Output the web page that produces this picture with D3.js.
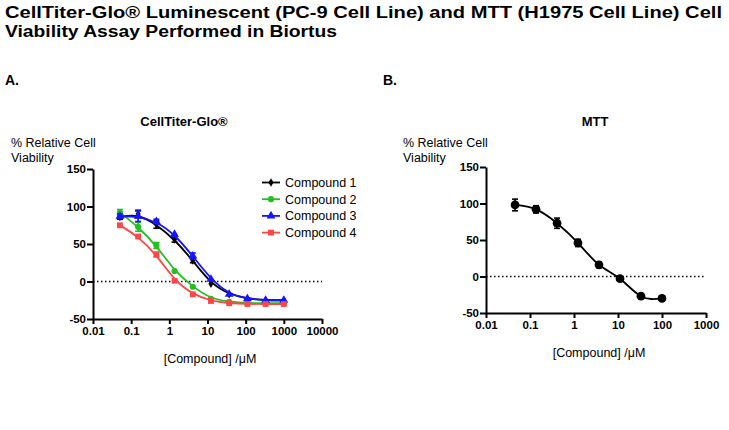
<!DOCTYPE html>
<html><head><meta charset="utf-8">
<script src="https://cdn.jsdelivr.net/npm/d3@7"></script>
<style>body{margin:0;background:#fff}svg{display:block;font-family:"Liberation Sans",Arial,sans-serif}</style>
</head><body>
<svg id="c" width="729" height="430"></svg>
<script>
// ---- data ----
const concA = [0.0508, 0.152, 0.457, 1.37, 4.12, 12.3, 37.0, 111, 333, 1000];
const comp1 = [86, 90, 76, 56, 28, -3, -17, -23, -25, -25];
const comp1Err = [3, 5, 5, 3.5, 3, 2, 2, 1, 1, 1];
const comp2 = [92, 73, 48, 14, -7, -23, -27, -29, -29, -29];
const comp2Err = [4, 6, 4, 2, 1.5, 1, 1, 1, 1, 1];
const comp3 = [87, 87, 80, 63, 34, 3, -17, -23, -25, -25];
const comp3Err = [3, 7, 3, 2, 4, 2, 1.5, 1, 1, 1];
const comp4 = [75, 60, 36, 1, -17, -26, -29, -30, -30, -30];
const comp4Err = [1.5, 2, 3, 1.5, 1, 1, 1, 1, 1, 1];
const seriesNames = ["Compound 1", "Compound 2", "Compound 3", "Compound 4"];

const concB = [0.0457, 0.137, 0.412, 1.23, 3.70, 11.1, 33.3, 100];
const mtt = [98, 92, 73, 46, 16, -3, -27, -30];
const mttErr = [8, 5, 7, 5, 4, 1, 1, 1];

const yTicks = [-50, 0, 50, 100, 150];
const yLabels = ["-50", "0", "50", "100", "150"];
const xTicksA = [0.01, 0.1, 1, 10, 100, 1000, 10000];
const xLabelsA = ["0.01", "0.1", "1", "10", "100", "1000", "10000"];
const xTicksB = [0.01, 0.1, 1, 10, 100, 1000];
const xLabelsB = ["0.01", "0.1", "1", "10", "100", "1000"];

// ---- drawing ----
const FONT = "'Liberation Sans', Arial, sans-serif";
const svg = d3.select("#c");
const colors = ["#000000", "#22c022", "#1414ff", "#ff4646"];
const symbols = [d3.symbolDiamond, d3.symbolCircle, d3.symbolTriangle, d3.symbolSquare];
const symSizes = [22, 30, 34, 34];

svg.append("text").attr("x", 5).attr("y", 18).attr("font-size", 16).attr("font-weight", "bold")
  .attr("textLength", 717).attr("lengthAdjust", "spacingAndGlyphs")
  .text("CellTiter-Glo® Luminescent (PC-9 Cell Line) and MTT (H1975 Cell Line) Cell");
svg.append("text").attr("x", 5).attr("y", 37).attr("font-size", 16).attr("font-weight", "bold")
  .attr("textLength", 332).attr("lengthAdjust", "spacingAndGlyphs")
  .text("Viability Assay Performed in Biortus");
svg.append("text").attr("x", 5).attr("y", 85).attr("font-size", 14).attr("font-weight", "bold").text("A.");
svg.append("text").attr("x", 383).attr("y", 85).attr("font-size", 14).attr("font-weight", "bold").text("B.");

function panel(cfg) {
  const g = svg.append("g");
  const x = d3.scaleLog().domain(cfg.xDomain).range(cfg.xRange);
  const y = d3.scaleLinear().domain([-50, 150]).range(cfg.yRange);
  g.append("text").attr("x", cfg.titleX).attr("y", 126).attr("text-anchor", "middle")
    .attr("font-size", 13).attr("font-weight", "bold").text(cfg.title);
  g.append("text").attr("x", cfg.labX).attr("y", 147).attr("font-size", 12.5).text("% Relative Cell");
  g.append("text").attr("x", cfg.labX).attr("y", 162).attr("font-size", 12.5).text("Viability");
  const ay = g.append("g").attr("transform", `translate(${cfg.xRange[0]},0)`)
    .call(d3.axisLeft(y).tickValues(yTicks).tickSize(6).tickSizeOuter(0).tickPadding(1)
      .tickFormat((d, i) => yLabels[i]));
  const ax = g.append("g").attr("transform", `translate(0,${cfg.yRange[0]})`)
    .call(d3.axisBottom(x).tickValues(cfg.xTicks).tickSize(5).tickSizeOuter(0).tickPadding(3)
      .tickFormat((d, i) => cfg.xLabels[i]));
  [ay, ax].forEach(a => {
    a.attr("font-family", FONT);
    a.select(".domain").attr("stroke", "#000").attr("stroke-width", 2);
    a.selectAll(".tick line").attr("stroke", "#000").attr("stroke-width", 2);
    a.selectAll(".tick text").attr("font-size", 11.5).attr("font-weight", "bold").attr("fill", "#000");
  });
  g.append("line").attr("x1", cfg.xRange[0]).attr("x2", cfg.xRange[1])
    .attr("y1", y(0)).attr("y2", y(0)).attr("stroke", "#000").attr("stroke-width", 1.3)
    .attr("stroke-dasharray", "1.5,2.5");
  g.append("text").attr("x", cfg.xLabX).attr("y", cfg.xLabY).attr("text-anchor", "middle")
    .attr("font-size", 12.5).text("[Compound] /μM");
  cfg.series.forEach(s => {
    const pts = s.conc.map((c, i) => ({ c, v: s.vals[i], e: s.errs[i] }));
    g.append("path").datum(pts).attr("fill", "none").attr("stroke", s.color).attr("stroke-width", 1.8)
      .attr("d", d3.line().x(d => x(d.c)).y(d => y(d.v)).curve(cfg.curve));
    const eb = g.append("g").attr("stroke", s.color).attr("stroke-width", 1.6);
    pts.filter(d => d.e >= 2.5).forEach(d => {
      const px = x(d.c);
      eb.append("line").attr("x1", px).attr("x2", px).attr("y1", y(d.v + d.e)).attr("y2", y(d.v - d.e));
      [d.v + d.e, d.v - d.e].forEach(v => eb.append("line").attr("x1", px - 3).attr("x2", px + 3)
        .attr("y1", y(v)).attr("y2", y(v)));
    });
    g.append("g").selectAll("path").data(pts).join("path")
      .attr("transform", d => `translate(${x(d.c)},${y(d.v)})`)
      .attr("d", d3.symbol().type(s.symbol).size(s.size)).attr("fill", s.color);
  });
  return { x, y };
}

panel({
  xDomain: [0.01, 10000], xRange: [93, 322], yRange: [319, 169],
  xTicks: xTicksA, xLabels: xLabelsA, title: "CellTiter-Glo®", titleX: 184, labX: 11,
  xLabX: 210, xLabY: 363, curve: d3.curveBasis,
  series: [comp1, comp2, comp3, comp4].map((vals, i) => ({
    conc: concA, vals, errs: [comp1Err, comp2Err, comp3Err, comp4Err][i],
    color: colors[i], symbol: symbols[i], size: symSizes[i]
  }))
});

panel({
  xDomain: [0.01, 1000], xRange: [486, 706], yRange: [313, 167],
  xTicks: xTicksB, xLabels: xLabelsB, title: "MTT", titleX: 595, labX: 403,
  xLabX: 599, xLabY: 357, curve: d3.curveNatural,
  series: [{ conc: concB, vals: mtt, errs: mttErr, color: "#000", symbol: d3.symbolCircle, size: 60 }]
});

const leg = svg.append("g");
seriesNames.forEach((n, i) => {
  const ly = 182.5 + i * 16.7;
  leg.append("line").attr("x1", 262).attr("x2", 280).attr("y1", ly).attr("y2", ly)
    .attr("stroke", colors[i]).attr("stroke-width", 1.8);
  leg.append("path").attr("transform", `translate(271,${ly})`)
    .attr("d", d3.symbol().type(symbols[i]).size(symSizes[i])).attr("fill", colors[i]);
  leg.append("text").attr("x", 285).attr("y", ly + 4.5).attr("font-size", 12.5).text(n);
});
</script>
</body></html>
